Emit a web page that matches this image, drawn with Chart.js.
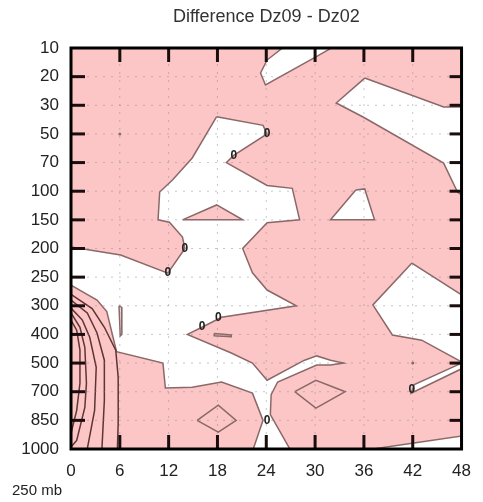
<!DOCTYPE html>
<html>
<head>
<meta charset="utf-8">
<script src="https://cdn.jsdelivr.net/npm/chart.js@4"></script>
<style>
  body { margin: 0; background: #fff; }
</style>
</head>
<body>
<canvas id="diffChart" width="483" height="502"></canvas>
<script>
// axis values
const hours = [0, 6, 12, 18, 24, 30, 36, 42, 48];
const levels = [10, 20, 30, 50, 70, 100, 150, 200, 250, 300, 400, 500, 700, 850, 1000];

// contour areas, points are [hour, level index] (index into levels, fractional)
const mainWhite = [
  [17.9, 2.4], [23.6, 2.7], [24.1, 3.0], [20.0, 3.75], [19.1, 4.0], [24.1, 4.8], [27.2, 4.9],
  [28.1, 6.0], [24.1, 6.1], [21.1, 7.0], [22.3, 7.85], [24.1, 8.45], [27.7, 9.0], [18.5, 9.4],
  [16.1, 9.75], [14.3, 10.0], [19.7, 10.65], [22.3, 11.0], [24.1, 11.6], [28.7, 10.9],
  [30.2, 10.75], [31.9, 10.9], [33.5, 11.0], [31.9, 11.07], [30.2, 11.07], [25.4, 11.66],
  [24.6, 12.1], [24.5, 12.8], [26.9, 14], [22.4, 14], [23.6, 13.0], [22.3, 12.05], [18.5, 11.66],
  [14.9, 11.84], [11.6, 11.87], [11.3, 11.0], [5.6, 10.6], [4.4, 9.2], [3.2, 8.8], [0, 8.28],
  [0, 6.95], [6.1, 7.23], [11.9, 7.86], [14.0, 7.0], [13.7, 6.6], [12.1, 6.08], [10.7, 6.0],
  [10.9, 5.03], [12.5, 4.6], [14.9, 3.84]
];
const topWhite = [[24.1, 0.42], [23.3, 0.87], [23.9, 1.29], [30.1, 0.31], [32.0, 0], [26.0, 0]];
const upperRightWhite = [[36.1, 1.05], [32.6, 1.92], [35.9, 2.41], [45.8, 4.02], [47.5, 5.03],
  [48, 5.13], [48, 2.06], [45.8, 2.06]];
const triangleWhite = [[35.0, 4.96], [36.1, 4.92], [37.3, 6.0], [31.9, 6.0]];
const rightWhite = [[41.9, 7.51], [37.1, 8.97], [39.5, 10.02], [43.1, 10.2], [48, 10.96], [48, 8.62]];
const channelWhite = [[48, 11.0], [42.2, 11.75], [41.8, 12.05], [48, 11.2]];
const bottomRightWhite = [[37.1, 14], [48, 13.55], [48, 14]];
const pinkTriangle = [[13.7, 6.0], [17.9, 5.48], [21.1, 6.0]];

// closed contour loops inside the areas
const diamondA = [[15.5, 13.0], [18.1, 12.47], [20.3, 13.0], [18.1, 13.41]];
const diamondB = [[27.5, 12.0], [30.1, 11.6], [33.7, 12.0], [30.1, 12.57]];
const thinLoop = [[5.9, 9.0], [6.2, 9.05], [6.25, 10.0], [6.05, 10.05]];
const dashLoop = [[17.6, 9.97], [19.7, 10.02], [19.7, 10.08], [17.6, 10.05]];
const dots = [[6, 3.0], [42, 11.0]];

// nested contours in the lower left corner
const lineA = [[0, 8.6], [2.6, 9.1], [4.1, 9.75], [5.5, 10.55], [5.8, 11.5], [5.8, 13.1], [5.7, 14]];
const lineB = [[0, 8.8], [2.0, 9.25], [3.2, 9.95], [4.1, 10.9], [4.1, 12.3], [3.8, 14]];
const lineC = [[0, 9.08], [1.4, 9.5], [2.3, 10.1], [3.1, 11.15], [2.9, 12.65], [2.0, 14]];
const lineD = [[0, 9.25], [1.1, 9.75], [1.7, 10.45], [1.9, 11.7], [1.7, 12.55], [0.7, 13.7], [0, 13.93]];
const lineE = [[0, 9.5], [0.7, 9.85], [1.1, 10.55], [1.1, 11.7], [0.7, 12.65], [0, 13.45]];

// "0" contour labels
const zeroLabels = [[24.1, 3.0], [20.0, 3.75], [14.0, 7.0], [11.9, 7.86], [18.1, 9.43],
  [16.1, 9.74], [24.1, 13.0], [41.9, 11.94]];

const PINK = '#fcc6c6';
const LINE = '#8b6868';
const DARK = '#5e3434';

function toXY(pts, close) {
  const out = pts.map(p => ({ x: p[0], y: p[1] }));
  if (close) out.push({ x: pts[0][0], y: pts[0][1] });
  return out;
}

function area(pts, color) {
  return { data: toXY(pts, true), showLine: true, fill: 'shape', backgroundColor: color,
    borderColor: LINE, borderWidth: 1.5, pointRadius: 0, tension: 0 };
}

function loop(pts, color, closed) {
  return { data: toXY(pts, closed), showLine: true, fill: false, borderColor: color,
    borderWidth: 1.5, pointRadius: 0, tension: 0 };
}

const datasets = [
  area(mainWhite, '#ffffff'),
  area(topWhite, '#ffffff'),
  area(upperRightWhite, '#ffffff'),
  area(triangleWhite, '#ffffff'),
  area(rightWhite, '#ffffff'),
  area(channelWhite, '#ffffff'),
  area(bottomRightWhite, '#ffffff'),
  area(pinkTriangle, PINK),
  loop(diamondA, LINE, true),
  loop(diamondB, LINE, true),
  loop(thinLoop, LINE, true),
  loop(dashLoop, LINE, true),
  loop(lineA, DARK, false),
  loop(lineB, DARK, false),
  loop(lineC, DARK, false),
  loop(lineD, DARK, false),
  loop(lineE, DARK, false),
  { data: toXY(dots, false), showLine: false, pointRadius: 1.5, pointBackgroundColor: LINE, pointBorderWidth: 0 }
];
// first in list is drawn first
datasets.forEach((d, i) => { d.order = datasets.length - i; });

const FONT = '"Liberation Sans", Arial, sans-serif';

const framePlugin = {
  id: 'frame',
  beforeDatasetsDraw(chart) {
    const a = chart.chartArea;
    const ctx = chart.ctx;
    ctx.save();
    ctx.fillStyle = PINK;
    ctx.fillRect(a.left, a.top, a.right - a.left, a.bottom - a.top);
    ctx.restore();
  },
  afterDatasetsDraw(chart) {
    const a = chart.chartArea;
    const ctx = chart.ctx;
    const xs = chart.scales.x;
    const ys = chart.scales.y;
    ctx.save();

    // dotted grid
    ctx.strokeStyle = 'rgba(130,130,150,0.45)';
    ctx.lineWidth = 1;
    ctx.setLineDash([2, 6]);
    hours.forEach(h => {
      const px = xs.getPixelForValue(h);
      ctx.beginPath(); ctx.moveTo(px, a.top); ctx.lineTo(px, a.bottom); ctx.stroke();
    });
    levels.forEach((l, i) => {
      const py = ys.getPixelForValue(i);
      ctx.beginPath(); ctx.moveTo(a.left, py); ctx.lineTo(a.right, py); ctx.stroke();
    });
    ctx.setLineDash([]);

    // contour labels
    ctx.fillStyle = '#222';
    ctx.font = 'bold 12px ' + FONT;
    ctx.textAlign = 'center';
    ctx.textBaseline = 'middle';
    zeroLabels.forEach(p => {
      ctx.fillText('0', xs.getPixelForValue(p[0]), ys.getPixelForValue(p[1]));
    });

    // inward ticks
    ctx.strokeStyle = '#1a0d0d';
    ctx.lineWidth = 3;
    const len = 14;
    hours.slice(1, -1).forEach(h => {
      const px = xs.getPixelForValue(h);
      ctx.beginPath(); ctx.moveTo(px, a.top); ctx.lineTo(px, a.top + len); ctx.stroke();
      ctx.beginPath(); ctx.moveTo(px, a.bottom); ctx.lineTo(px, a.bottom - len); ctx.stroke();
    });
    levels.slice(1, -1).forEach((l, i) => {
      const py = ys.getPixelForValue(i + 1);
      ctx.beginPath(); ctx.moveTo(a.left, py); ctx.lineTo(a.left + len, py); ctx.stroke();
      ctx.beginPath(); ctx.moveTo(a.right, py); ctx.lineTo(a.right - 12, py); ctx.stroke();
    });

    // frame
    ctx.strokeStyle = '#000';
    ctx.lineWidth = 3;
    ctx.strokeRect(a.left, a.top, a.right - a.left, a.bottom - a.top);

    // title and unit note
    ctx.fillStyle = '#333';
    ctx.font = '18px ' + FONT;
    ctx.textAlign = 'center';
    ctx.textBaseline = 'middle';
    ctx.fillText('Difference Dz09 - Dz02', (a.left + a.right) / 2, 17);
    ctx.fillStyle = '#222';
    ctx.font = '15px ' + FONT;
    ctx.textAlign = 'left';
    ctx.fillText('250 mb', 12, 491);
    ctx.restore();
  }
};

new Chart(document.getElementById('diffChart').getContext('2d'), {
  type: 'scatter',
  data: { datasets: datasets },
  options: {
    responsive: false,
    animation: false,
    layout: { padding: { top: 48, right: 12, left: 0, bottom: 0 } },
    plugins: { legend: { display: false }, tooltip: { enabled: false }, title: { display: false } },
    scales: {
      x: {
        type: 'linear',
        min: 0,
        max: 48,
        afterFit: s => { s.height = 53; },
        afterBuildTicks: s => { s.ticks = hours.map(h => ({ value: h })); },
        grid: { display: false, drawTicks: false },
        border: { display: false },
        ticks: { autoSkip: false, padding: 12, color: '#222', font: { family: FONT, size: 17 } }
      },
      y: {
        type: 'linear',
        min: 0,
        max: 14,
        reverse: true,
        afterFit: s => { s.width = 71; },
        afterBuildTicks: s => { s.ticks = levels.map((l, i) => ({ value: i })); },
        grid: { display: false, drawTicks: false },
        border: { display: false },
        ticks: {
          autoSkip: false,
          padding: 12,
          color: '#222',
          font: { family: FONT, size: 17 },
          callback: v => levels[v]
        }
      }
    }
  },
  plugins: [framePlugin]
});
</script>
</body>
</html>
